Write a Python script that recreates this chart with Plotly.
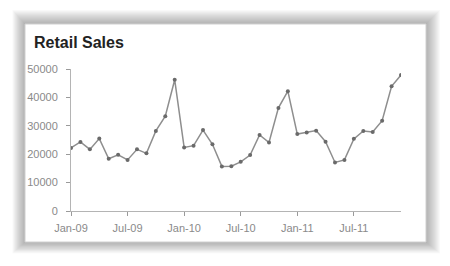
import plotly.graph_objects as go

months = ["Jan", "Feb", "Mar", "Apr", "May", "Jun", "Jul", "Aug", "Sep", "Oct", "Nov", "Dec"]
years = ["09", "10", "11"]
categories = [f"{m}-{y}" for y in years for m in months]

sales = [22200, 24300, 21700, 25500, 18400, 19800, 18000, 21700, 20300, 28200, 33400, 46200,
         22400, 23000, 28500, 23500, 15700, 15800, 17300, 19700, 26800, 24100, 36300, 42200,
         27100, 27600, 28300, 24400, 17100, 18000, 25400, 28200, 27800, 31800, 43900, 47900]

x_ticks = ["Jan-09", "Jul-09", "Jan-10", "Jul-10", "Jan-11", "Jul-11"]
y_ticks = [0, 10000, 20000, 30000, 40000, 50000]

W, H = 450, 266
L, R, T, B = 71, 49, 69, 55
PW, PH = W - L - R, H - T - B


def px(x):
    return (x - L) / PW


def py(y):
    return (H - B - y) / PH


fig = go.Figure()
fig.add_trace(go.Scatter(
    x=categories, y=sales, mode="lines+markers",
    line=dict(color="#8e8e8e", width=1.5),
    marker=dict(color="#6a6a6a", size=4),
    hoverinfo="skip", showlegend=False,
))

shapes = []
# soft drop shadow around the card
card = (25, 24, 426, 242)
N = 14
for k in range(N, 0, -1):
    shapes.append(dict(
        type="rect", xref="paper", yref="paper", layer="below",
        x0=px(card[0] - k * 0.9), x1=px(card[2] + k), y0=py(card[3] + k * 0.8), y1=py(card[1] - k),
        fillcolor="rgba(70,70,70,0.032)", line=dict(width=0),
    ))
shapes.append(dict(
    type="rect", xref="paper", yref="paper", layer="below",
    x0=px(card[0]), x1=px(card[2]), y0=py(card[3]), y1=py(card[1]),
    fillcolor="white", line=dict(color="#d0d0d0", width=1),
))

fig.update_layout(
    width=W, height=H,
    margin=dict(l=L, r=R, t=T, b=B, pad=0),
    paper_bgcolor="white", plot_bgcolor="rgba(0,0,0,0)",
    shapes=shapes,
    annotations=[dict(
        text="<b>Retail Sales</b>", xref="paper", yref="paper",
        x=px(32), y=py(42), xanchor="left", yanchor="middle", showarrow=False,
        font=dict(family="Liberation Sans, Arial, sans-serif", size=16, color="#222222"),
    )],
    font=dict(family="Liberation Sans, Arial, sans-serif", size=11, color="#8a8a8a"),
)
fig.update_xaxes(
    type="category", range=[0, 35], tickmode="array", tickvals=x_ticks, ticktext=x_ticks,
    showgrid=False, zeroline=False, showline=True, linecolor="#b4b4b4", linewidth=1,
    ticks="outside", ticklen=4, tickcolor="#9a9a9a", ticklabelstandoff=3,
    tickfont=dict(size=11, color="#8a8a8a"),
)
fig.update_yaxes(
    range=[0, 50000], tickmode="array", tickvals=y_ticks, ticktext=[str(v) for v in y_ticks],
    showgrid=False, zeroline=False, showline=True, linecolor="#b4b4b4", linewidth=1,
    ticks="outside", ticklen=4, tickcolor="#9a9a9a", ticklabelstandoff=6,
    tickfont=dict(size=11, color="#8a8a8a"),
)

fig.write_html("out.html")
